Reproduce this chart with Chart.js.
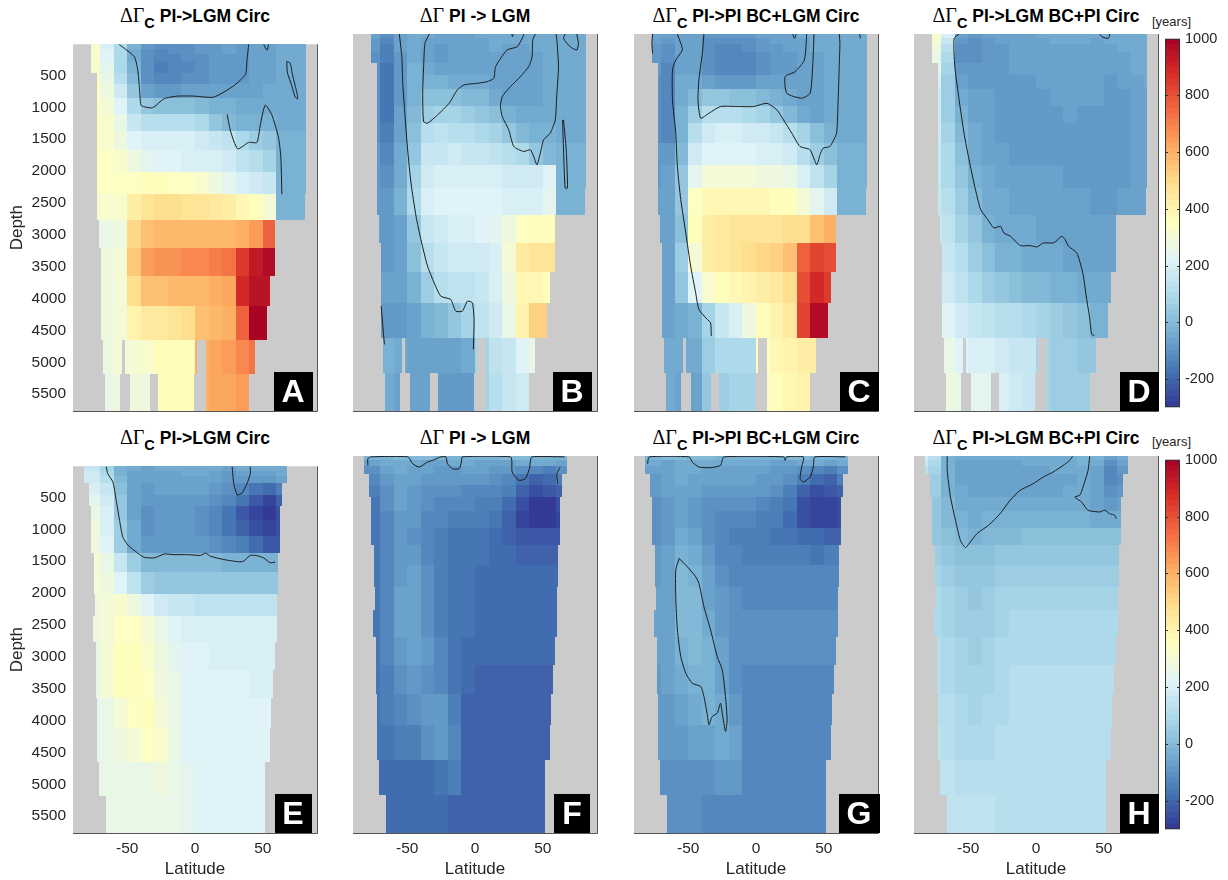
<!DOCTYPE html>
<html>
<head>
<meta charset="utf-8">
<script src="https://cdn.jsdelivr.net/npm/chart.js@4.4.1/dist/chart.umd.min.js"></script>
<style>
html, body { margin: 0; padding: 0; background: #fff; overflow: hidden; }
body { width: 1228px; height: 880px; position: relative; font-family: "Liberation Sans", Arial, Helvetica, sans-serif; }
canvas { position: absolute; }
.ttl { position: absolute; width: 300px; text-align: center; font-weight: bold; font-size: 17.5px; line-height: 20px; color: #000; white-space: nowrap; }
.ttl .g { font-family: "Liberation Serif", "Times New Roman", serif; font-weight: normal; font-size: 20px; }
.ttl sub { font-size: 14.5px; font-weight: bold; position: relative; top: 6px; vertical-align: baseline; line-height: 0; }
.units { position: absolute; font-size: 13px; line-height: 16px; color: #262626; }
</style>
</head>
<body>
<div class="ttl" style="left:45px;top:5px"><span class="g">ΔΓ</span><sub>C</sub> PI-&gt;LGM Circ</div>
<div class="ttl" style="left:325px;top:5px"><span class="g">ΔΓ</span> PI -&gt; LGM</div>
<div class="ttl" style="left:606px;top:5px"><span class="g">ΔΓ</span><sub>C</sub> PI-&gt;PI BC+LGM Circ</div>
<div class="ttl" style="left:886px;top:5px"><span class="g">ΔΓ</span><sub>C</sub> PI-&gt;LGM BC+PI Circ</div>
<div class="ttl" style="left:45px;top:427px"><span class="g">ΔΓ</span><sub>C</sub> PI-&gt;LGM Circ</div>
<div class="ttl" style="left:325px;top:427px"><span class="g">ΔΓ</span> PI -&gt; LGM</div>
<div class="ttl" style="left:606px;top:427px"><span class="g">ΔΓ</span><sub>C</sub> PI-&gt;PI BC+LGM Circ</div>
<div class="ttl" style="left:886px;top:427px"><span class="g">ΔΓ</span><sub>C</sub> PI-&gt;LGM BC+PI Circ</div>
<div class="units" style="left:1152px;top:14px">[years]</div>
<div class="units" style="left:1152px;top:434px">[years]</div>

<script>
// ---- grid ----
const depthEdges = [12, 80, 170, 280, 459, 637, 855, 1109, 1373, 1678, 2018, 2363, 2769, 3200, 3647, 4124, 4647, 5180, 5765];
const latEdges = [-90, -80, -70, -60, -50, -40, -30, -20, -10, 0, 10, 20, 30, 40, 50, 60, 70, 80, 90];
const depthTicks = [500, 1000, 1500, 2000, 2500, 3000, 3500, 4000, 4500, 5000, 5500];
const latTicks = [-50, 0, 50];
const colorTicks = [-200, 0, 200, 400, 600, 800, 1000];

// ocean extent per depth row, [west, east] latitude pieces
const atlanticMask = [
    [[-76.5, 82]], [[-76.5, 82]], [[-76.5, 82]], [[-76.5, 82]],
    [[-72.5, 82]], [[-72.5, 82]], [[-72.5, 82]], [[-72.5, 82]],
    [[-72.5, 82]], [[-72.5, 82]], [[-72.5, 82]], [[-72.5, 81]],
    [[-71, 59.3]], [[-69.5, 59.3]], [[-69.5, 55]], [[-69.5, 53]],
    [[-68, -53.8], [-51.5, 1.3], [8.4, 44.5]],
    [[-66.3, -55], [-47.7, -33.2], [-27.6, -0.7], [8.4, 40.4]]
];
const pacificMask = [
    [[-82, 67.8]], [[-82, 67.8]], [[-82, 67.8]],
    [[-78.4, 64]], [[-78.4, 64]],
    [[-76.5, 62.4]], [[-76.5, 62.4]], [[-76.5, 62.4]],
    [[-74.5, 60.9]], [[-74.5, 60.9]],
    [[-74, 60.5]], [[-75.3, 60.5]],
    [[-72.8, 59.3]], [[-72.8, 57.7]], [[-72.3, 56.2]], [[-72.3, 55.2]],
    [[-71, 51.9]], [[-66, 52]]
];

// ---- values [years], rows = depth layers, columns = 10 degree latitude bins ----
const gridA = [
    [null, 320, 200, 90, -30, -90, -110, -110, -100, -90, -80, -70, -80, -70, -60, -50, -40, -40],
    [null, 320, 210, 90, -40, -100, -120, -110, -100, -90, -80, -70, -80, -70, -60, -50, -40, -40],
    [null, 320, 220, 100, -40, -110, -130, -120, -110, -100, -80, -80, -80, -70, -60, -50, -40, -40],
    [null, 320, 230, 100, -30, -110, -140, -130, -120, -100, -90, -80, -80, -70, -60, -50, -40, -40],
    [null, 330, 250, 120, -10, -100, -130, -120, -110, -100, -90, -80, -80, -70, -60, -50, -40, -40],
    [null, 330, 280, 170, 40, -60, -80, -80, -70, -70, -60, -60, -60, -60, -50, -40, -40, -40],
    [null, 330, 300, 220, 100, 30, 20, 20, 10, 0, -20, -30, -40, -40, -40, -40, -40, -40],
    [null, 330, 310, 250, 150, 120, 120, 120, 110, 90, 40, 0, -20, -30, -30, -40, -40, -40],
    [null, 330, 320, 280, 210, 200, 200, 200, 190, 170, 150, 130, 100, 60, 30, -20, -30, -30],
    [null, 340, 330, 320, 270, 240, 220, 210, 200, 200, 190, 170, 140, 110, 80, -20, -20, -20],
    [null, 330, 340, 340, 340, 350, 350, 340, 330, 310, 280, 240, 200, 170, 150, -20, -20, -20],
    [null, 300, 310, 320, 420, 470, 480, 480, 470, 460, 440, 420, 380, 370, 300, -30, -30, -30],
    [null, 250, 260, 280, 500, 570, 580, 590, 590, 580, 580, 590, 600, 640, 760, null, null, null],
    [null, 260, 270, 300, 550, 650, 660, 670, 680, 680, 700, 720, 850, 930, 960, null, null, null],
    [null, 270, 280, 300, 480, 560, 570, 580, 580, 590, 600, 620, 880, 950, 950, null, null, null],
    [null, 270, 270, 300, 400, 440, 450, 460, 480, 560, 590, 600, 760, 980, 980, null, null, null],
    [null, 280, 280, 290, 300, 320, 350, 370, 370, 600, 620, 640, 680, 720, null, null, null, null],
    [null, 260, 260, 270, 270, 280, 350, 370, 370, 600, 620, 630, 640, null, null, null, null, null]
];
const gridB = [
    [null, -60, -100, -60, -50, -50, -60, -60, -60, -50, -50, -50, -50, -40, -40, -40, -40, -40],
    [null, -80, -120, -70, -40, -60, -70, -70, -60, -60, -50, -50, -50, -50, -40, -40, -40, -40],
    [null, -90, -140, -70, -40, -60, -80, -70, -60, -60, -50, -60, -60, -50, -50, -40, -40, -40],
    [null, -100, -150, -80, -40, -60, -80, -70, -70, -60, -60, -60, -60, -60, -50, -40, -40, -40],
    [null, -100, -160, -80, -30, -50, -70, -70, -60, -60, -70, -70, -70, -60, -50, -40, -40, -40],
    [null, -110, -170, -80, -30, -20, -30, -40, -50, -50, -60, -70, -70, -60, -50, -40, -40, -40],
    [null, -110, -170, -80, -20, 20, 20, 10, 0, -10, -40, -60, -70, -60, -50, -40, -40, -40],
    [null, -110, -160, -70, 0, 60, 80, 70, 60, 40, 10, -30, -50, -50, -40, -40, -40, -40],
    [null, -100, -150, -60, 20, 110, 130, 120, 110, 100, 70, 40, 0, -30, -30, -40, -40, -40],
    [null, -90, -130, -50, 40, 150, 160, 170, 160, 150, 140, 120, 90, 40, 0, -20, -30, -30],
    [null, -80, -110, -40, 80, 180, 190, 200, 200, 190, 190, 180, 170, 170, 210, -20, -20, -20],
    [null, -80, -90, -20, 100, 200, 210, 220, 220, 210, 210, 200, 190, 200, 240, -20, -20, -20],
    [null, -70, -90, -60, 40, 160, 180, 190, 200, 210, 230, 280, 330, 350, 350, null, null, null],
    [null, -60, -80, -60, 10, 120, 160, 170, 170, 180, 200, 300, 440, 470, 460, null, null, null],
    [null, -60, -70, -70, -30, 60, 110, 130, 140, 160, 200, 280, 380, 380, 350, null, null, null],
    [null, -70, -80, -90, -60, -30, 0, 30, 80, 130, 180, 250, 400, 520, 520, null, null, null],
    [null, -30, -30, -50, -60, -60, -60, -60, -50, 80, 130, 150, 220, 250, null, null, null, null],
    [null, -40, -40, -60, -60, -70, -80, -90, -90, 80, 110, 150, 180, null, null, null, null, null]
];
const gridC = [
    [null, -60, -70, -60, -60, -80, -90, -90, -80, -70, -60, -60, -50, -50, -50, -40, -40, -40],
    [null, -70, -90, -60, -70, -100, -110, -110, -100, -80, -70, -60, -60, -50, -50, -40, -40, -40],
    [null, -80, -100, -60, -70, -110, -120, -120, -110, -90, -80, -70, -60, -50, -50, -40, -40, -40],
    [null, -90, -110, -60, -70, -110, -130, -130, -120, -100, -90, -80, -70, -60, -50, -40, -40, -40],
    [null, -90, -120, -60, -70, -110, -130, -130, -120, -100, -90, -80, -70, -60, -50, -40, -40, -40],
    [null, -100, -120, -50, -50, -70, -80, -80, -80, -70, -70, -70, -70, -60, -50, -40, -40, -40],
    [null, -100, -130, -40, 0, 30, 30, 20, 10, 0, -20, -50, -70, -70, -50, -40, -40, -40],
    [null, -110, -130, -30, 60, 110, 120, 110, 100, 80, 40, 0, -40, -60, -50, -40, -40, -40],
    [null, -110, -130, -20, 120, 180, 190, 190, 180, 170, 150, 120, 80, 20, -30, -40, -40, -40],
    [null, -90, -80, 0, 170, 210, 220, 220, 210, 200, 190, 170, 120, 60, 20, -30, -30, -30],
    [null, -80, -60, 40, 230, 290, 300, 300, 290, 280, 270, 250, 200, 130, 80, -30, -30, -30],
    [null, -70, -60, 30, 330, 380, 390, 390, 390, 380, 370, 350, 290, 230, 180, -20, -20, -20],
    [null, -70, -60, 20, 360, 430, 450, 460, 460, 460, 470, 480, 490, 560, 600, null, null, null],
    [null, -60, -60, 60, 300, 420, 440, 460, 480, 500, 520, 560, 760, 830, 800, null, null, null],
    [null, -60, -60, 40, 220, 320, 360, 380, 400, 420, 440, 480, 800, 880, 850, null, null, null],
    [null, -60, -60, -40, -20, 80, 150, 200, 280, 360, 400, 440, 820, 960, 960, null, null, null],
    [null, -50, -50, -50, -40, 60, 90, 100, 100, 340, 380, 400, 420, 420, null, null, null, null],
    [null, -50, -50, -60, -60, 40, 60, 70, 70, 320, 360, 390, 400, null, null, null, null, null]
];
const gridD = [
    [null, 320, 200, -60, -80, -70, -60, -60, -60, -50, -50, -50, -50, -50, -40, -40, -40, -40],
    [null, 300, 150, -90, -100, -80, -70, -60, -60, -60, -50, -50, -50, -60, -50, -40, -40, -40],
    [null, 280, 120, -100, -100, -90, -80, -70, -60, -60, -60, -60, -60, -60, -60, -50, -40, -40],
    [null, 250, 100, -100, -100, -90, -80, -70, -70, -60, -60, -60, -60, -70, -70, -60, -40, -40],
    [null, 230, 80, -90, -90, -90, -80, -70, -70, -70, -60, -60, -70, -70, -70, -70, -50, -40],
    [null, 200, 60, -70, -80, -80, -80, -80, -80, -70, -70, -70, -70, -70, -80, -70, -60, -50],
    [null, 180, 60, -50, -70, -70, -80, -80, -80, -80, -70, -70, -70, -70, -80, -80, -70, -60],
    [null, 170, 60, -30, -60, -70, -80, -80, -80, -80, -80, -70, -80, -80, -90, -80, -70, -60],
    [null, 170, 80, -10, -50, -70, -80, -80, -80, -80, -80, -80, -80, -80, -90, -90, -70, -60],
    [null, 160, 90, 10, -40, -60, -70, -80, -80, -80, -80, -80, -80, -80, -90, -90, -70, -60],
    [null, 160, 100, 30, -20, -50, -60, -70, -70, -70, -70, -80, -80, -80, -90, -80, -70, -60],
    [null, 150, 110, 50, 0, -40, -50, -60, -60, -60, -70, -70, -70, -80, -80, -70, -60, -60],
    [null, 170, 140, 80, 30, -20, -40, -50, -50, -60, -60, -70, -70, -70, -70, null, null, null],
    [null, 190, 160, 110, 60, 10, -20, -30, -40, -50, -50, -60, -60, -60, -60, null, null, null],
    [null, 200, 180, 140, 100, 60, 40, 20, 0, -10, -20, -30, -40, -50, -50, null, null, null],
    [null, 230, 210, 180, 160, 140, 120, 110, 100, 80, 60, 40, 20, -20, -20, null, null, null],
    [null, 280, 260, 220, 200, 190, 170, 150, 150, 70, 60, 50, 40, 40, null, null, null, null],
    [null, 290, 280, 250, 240, 230, 190, 170, 160, 70, 60, 50, 50, null, null, null, null, null]
];
const gridE = [
    [150, 150, 80, -20, -50, -60, -50, -50, -40, -40, -40, -60, -50, -40, -50, -40, -40, null],
    [170, 170, 100, -20, -60, -70, -60, -60, -50, -50, -60, -80, -70, -60, -60, -50, -40, null],
    [170, 180, 120, 0, -60, -70, -60, -60, -60, -60, -70, -90, -90, -80, -90, -60, -40, null],
    [180, 200, 150, 20, -60, -80, -70, -70, -70, -70, -80, -100, -120, -160, -190, -150, null, null],
    [180, 230, 170, 30, -60, -90, -80, -80, -80, -80, -100, -130, -170, -230, -260, -200, null, null],
    [null, 260, 190, 40, -60, -100, -90, -90, -90, -100, -120, -160, -220, -270, -280, -250, null, null],
    [null, 270, 200, 50, -50, -100, -90, -90, -90, -100, -120, -160, -210, -250, -270, -250, null, null],
    [null, 280, 210, 60, -40, -90, -90, -90, -90, -90, -100, -120, -150, -190, -230, -220, null, null],
    [null, 290, 260, 160, 60, 0, -10, -10, -10, -10, -10, -20, -20, -20, -20, -20, null, null],
    [null, 300, 280, 220, 130, 60, 40, 30, 30, 30, 30, 30, 30, 30, 30, 30, null, null],
    [null, 280, 300, 320, 280, 220, 180, 160, 150, 140, 140, 130, 130, 130, 130, 130, null, null],
    [null, 270, 290, 340, 340, 300, 250, 220, 200, 190, 190, 190, 190, 190, 190, 190, null, null],
    [null, 260, 300, 350, 350, 320, 270, 240, 220, 210, 200, 200, 200, 200, 200, null, null, null],
    [null, 250, 290, 350, 360, 330, 280, 250, 220, 210, 210, 210, 210, 200, 200, null, null, null],
    [null, 240, 260, 300, 340, 350, 300, 250, 220, 210, 210, 210, 210, 210, 210, null, null, null],
    [null, 240, 250, 270, 300, 340, 320, 260, 220, 210, 210, 210, 210, 210, 210, null, null, null],
    [null, 250, 260, 260, 260, 260, 280, 250, 230, 220, 220, 220, 220, 220, 220, null, null, null],
    [null, null, 260, 260, 260, 260, 260, 250, 230, 220, 220, 220, 220, 220, 220, null, null, null]
];
const gridF = [
    [-20, -20, -20, -10, 0, -10, -20, -20, -20, -20, -20, -10, 0, -20, -20, -20, -20, null],
    [-60, -60, -40, -40, -50, -60, -60, -50, -50, -60, -60, -60, -40, -50, -40, -60, -40, null],
    [-100, -100, -60, -50, -60, -70, -80, -80, -70, -70, -80, -90, -100, -120, -140, -100, -80, null],
    [-120, -120, -80, -60, -70, -80, -90, -90, -90, -90, -100, -120, -160, -200, -190, -150, null, null],
    [-130, -150, -100, -70, -80, -100, -110, -110, -120, -120, -130, -150, -200, -240, -230, -200, null, null],
    [null, -160, -110, -70, -90, -110, -120, -130, -130, -140, -150, -180, -250, -280, -280, -250, null, null],
    [null, -170, -120, -80, -90, -120, -130, -140, -150, -150, -160, -200, -260, -290, -280, -270, null, null],
    [null, -170, -130, -80, -100, -130, -150, -160, -160, -170, -180, -200, -220, -230, -230, -230, null, null],
    [null, -170, -130, -80, -90, -130, -150, -160, -170, -170, -180, -190, -200, -200, -200, -200, null, null],
    [null, -170, -130, -80, -70, -110, -140, -160, -170, -180, -180, -190, -190, -190, -190, -190, null, null],
    [null, -160, -120, -70, -60, -100, -140, -160, -170, -180, -180, -180, -180, -180, -180, -180, null, null],
    [null, -160, -120, -70, -60, -100, -140, -160, -170, -180, -180, -180, -180, -180, -180, -180, null, null],
    [null, -160, -120, -80, -70, -90, -130, -160, -180, -190, -190, -190, -190, -190, -190, null, null, null],
    [null, -170, -140, -100, -90, -100, -130, -170, -190, -200, -200, -200, -200, -200, -200, null, null, null],
    [null, -170, -150, -130, -110, -80, -80, -150, -200, -210, -210, -210, -210, -210, -210, null, null, null],
    [null, -170, -160, -150, -140, -110, -90, -120, -200, -210, -210, -210, -200, -200, -200, null, null, null],
    [null, -180, -180, -180, -180, -180, -170, -150, -200, -210, -210, -210, -200, -200, -200, null, null, null],
    [null, null, -190, -190, -190, -190, -190, -200, -210, -210, -210, -210, -210, -210, -210, null, null, null]
];
const gridG = [
    [-20, -20, -10, -10, -10, -10, -20, -20, -20, -20, -20, -10, 0, -20, -20, -20, -20, null],
    [-40, -40, -60, -40, -40, -50, -50, -40, -40, -40, -60, -60, -40, -50, -60, -50, -40, null],
    [-70, -70, -60, -40, -40, -60, -60, -60, -60, -60, -80, -90, -110, -130, -140, -100, -60, null],
    [-80, -80, -70, -50, -60, -70, -70, -70, -70, -80, -90, -110, -150, -190, -200, -150, null, null],
    [-90, -90, -70, -60, -70, -80, -80, -90, -90, -90, -110, -140, -200, -240, -230, -200, null, null],
    [null, -100, -80, -60, -80, -100, -100, -110, -110, -120, -140, -170, -240, -270, -270, -240, null, null],
    [null, -100, -80, -60, -80, -110, -120, -130, -130, -140, -150, -180, -240, -270, -260, -250, null, null],
    [null, -100, -80, -50, -60, -100, -130, -140, -150, -150, -160, -170, -180, -190, -200, -200, null, null],
    [null, -90, -70, -30, -40, -90, -120, -130, -140, -140, -150, -150, -150, -160, -150, -150, null, null],
    [null, -80, -60, -10, -20, -70, -100, -120, -130, -130, -130, -130, -130, -130, -130, -130, null, null],
    [null, -70, -60, 0, -10, -60, -90, -110, -120, -120, -120, -120, -120, -120, -120, -120, null, null],
    [null, -70, -60, -10, 0, -40, -80, -100, -110, -110, -110, -110, -110, -110, -110, -110, null, null],
    [null, -70, -60, -30, -10, -30, -70, -100, -110, -110, -110, -110, -110, -110, -110, null, null, null],
    [null, -80, -70, -50, -20, -20, -60, -100, -120, -120, -120, -120, -120, -120, -120, null, null, null],
    [null, -90, -80, -70, -50, -30, -40, -90, -130, -130, -130, -130, -130, -130, -130, null, null, null],
    [null, -90, -90, -80, -70, -60, -50, -70, -130, -130, -130, -130, -130, -130, -130, null, null, null],
    [null, -100, -100, -100, -100, -100, -90, -80, -130, -130, -130, -130, -130, -130, -130, null, null, null],
    [null, null, -110, -110, -110, -120, -120, -120, -130, -130, -130, -130, -130, -130, -130, null, null, null]
];
const gridH = [
    [180, 120, -20, -50, -50, -50, -50, -50, -40, -40, -40, -40, -20, -30, -60, -40, -40, null],
    [150, 100, -30, -60, -60, -60, -60, -60, -50, -50, -50, -50, -30, -50, -100, -60, -40, null],
    [120, 80, -30, -60, -60, -60, -60, -60, -60, -60, -50, -50, -40, -60, -120, -80, -60, null],
    [100, 60, -30, -60, -60, -60, -60, -60, -60, -60, -60, -60, -40, -60, -120, -100, null, null],
    [100, 50, -20, -50, -60, -60, -60, -60, -60, -60, -60, -50, -50, -60, -100, -80, null, null],
    [null, 40, -10, -40, -50, -50, -50, -50, -50, -50, -50, -50, -50, -60, -80, -70, null, null],
    [null, 40, 0, -30, -40, -30, -30, -30, -30, -30, -30, -30, -30, -40, -50, -50, null, null],
    [null, 40, 20, 0, -20, -10, 0, 0, 10, 10, 10, 10, 10, 10, 10, 10, null, null],
    [null, 60, 40, 20, 10, 20, 30, 40, 40, 40, 40, 40, 40, 40, 40, 40, null, null],
    [null, 80, 50, 40, 30, 40, 50, 60, 60, 60, 60, 60, 60, 60, 60, 60, null, null],
    [null, 90, 70, 50, 40, 50, 70, 80, 80, 80, 80, 80, 80, 80, 80, 80, null, null],
    [null, 100, 80, 60, 50, 60, 80, 90, 90, 90, 90, 90, 90, 90, 90, 90, null, null],
    [null, 110, 90, 70, 60, 70, 90, 100, 100, 100, 100, 100, 100, 100, 100, null, null, null],
    [null, 120, 100, 80, 70, 80, 100, 110, 110, 110, 110, 110, 110, 110, 110, null, null, null],
    [null, 120, 110, 90, 80, 90, 100, 110, 110, 110, 110, 110, 110, 110, 110, null, null, null],
    [null, 130, 120, 100, 90, 100, 110, 110, 110, 110, 110, 110, 110, 110, 110, null, null, null],
    [null, 130, 130, 110, 110, 110, 110, 110, 110, 110, 110, 110, 110, 110, 110, null, null, null],
    [null, null, 140, 130, 130, 130, 120, 110, 110, 110, 110, 110, 110, 110, 110, null, null, null]
];

// ---- contour lines, [lat, depth] ----
const contourA = [
    [[-56, 13], [-44.8, 206], [-42.3, 409], [-41.1, 662], [-39.9, 967], [-37.4, 992], [-31.3, 1008], [-22.7, 865], [-13, 825], [-0.7, 825], [13.9, 840], [28.6, 662], [37.2, 485], [38.4, 256], [39.6, 13]],
    [[50.6, 13], [53.1, 104], [54.3, 13]],
    [[23.7, 1109], [26.2, 1373], [31.5, 1652], [39.6, 1551], [45.7, 1551], [48.2, 1272], [51.8, 967], [56.7, 1119], [61.6, 1475], [63.3, 1779], [64.1, 2363]],
    [[67.7, 282], [70.2, 307], [72.1, 510], [75.1, 764], [75.8, 865], [73.9, 840], [71.4, 662], [68.2, 459], [67.7, 282]]
];
const contourB = [
    [[-55.8, 13], [-54, 358], [-53.3, 764], [-51.6, 1272], [-49.7, 1779], [-47.2, 2287], [-43.5, 2794], [-39.9, 3150], [-35, 3556], [-30.1, 3810], [-25.2, 4013], [-17.9, 4063], [-14.2, 4241], [-9.3, 4241], [-5.6, 4089], [-2, 4114], [-0.7, 4368], [-1.2, 4825]],
    [[-33.7, 13], [-36.9, 155], [-37.9, 510], [-38.6, 916], [-37.9, 1348], [-35, 1373], [-27.6, 1246], [-19.1, 1069], [-13, 865], [-8.1, 789], [1.7, 764], [9, 739], [13.9, 688], [15.2, 510], [23.7, 256], [31.1, 206], [35.5, 53], [35.9, 13]],
    [[27.1, 13], [27.6, 53], [28.4, 13]],
    [[44.5, 13], [42.6, 104], [42.1, 358], [39.6, 510], [33.5, 662], [26.2, 815], [20.1, 967], [18.8, 1119], [20.1, 1272], [24.9, 1475], [28.6, 1728], [35.9, 1805], [40.8, 1779], [43.3, 1881], [45.7, 2008], [48.2, 1830], [50.6, 1627], [55.5, 1525], [59.2, 1322], [60.4, 916], [61.6, 510], [60.4, 104], [59.9, 13]],
    [[66.5, 13], [65.3, 79], [70.2, 206], [75.1, 256], [76.3, 155], [75.1, 13]],
    [[64.6, 1322], [65.3, 1779], [66.5, 2363], [68.2, 2363], [67.3, 1779], [65.3, 1322]],
    [[-69.2, 4165], [-68, 4469], [-66.8, 4749]]
];
const contourC = [
    [[-76.3, 13], [-76.8, 155], [-76.3, 307]],
    [[-58, 13], [-55.5, 155], [-54.3, 256], [-59.2, 409], [-61.6, 561], [-61.6, 1018], [-59.2, 1525], [-58, 2033], [-55.5, 2541], [-51.8, 3048], [-48.2, 3556], [-44.5, 3962], [-42.1, 4216], [-35.9, 4368], [-33.5, 4419], [-33, 4622]],
    [[-38.4, 13], [-39.6, 307], [-42.1, 713], [-42.8, 1018], [-40.8, 1297], [-34.7, 1221], [-26.2, 1119], [-13.9, 1119], [-1.7, 1119], [8.1, 1069], [15.4, 1170], [20.3, 1322], [26.4, 1525], [32.5, 1728], [39.9, 1779], [44.8, 2008], [47.2, 1855], [49.6, 1754], [54.5, 1728], [59.4, 1525], [60.6, 1018], [61.4, 510], [61.9, 155], [61.4, 13]],
    [[37.4, 13], [35.7, 409], [28.9, 586], [21.5, 662], [22.7, 916], [33.7, 992], [39.9, 916], [41.8, 510], [42.8, 13]],
    [[27.1, 13], [28.4, 79], [29.6, 13]],
    [[76.5, 13], [77, 79]]
];
const contourD = [
    [[-56.7, 13], [-60.4, 79], [-59.9, 510], [-56.7, 1018], [-53.1, 1525], [-49.4, 1931], [-45.2, 2338], [-40.8, 2693], [-35.5, 2845], [-31.1, 2972], [-26.2, 2947], [-23.7, 3048], [-18.8, 3099], [-11.5, 3241], [-4.2, 3241], [0.7, 3261], [5.6, 3200], [13, 3200], [19.1, 3099], [21.5, 3150], [24, 3251], [30.1, 3353], [34.5, 3657], [37.4, 4063], [39.4, 4317], [41.1, 4596], [43, 4612]],
    [[47.2, 13], [48.4, 53], [53.3, 79], [54.5, 13]]
];
const contourE = [
    [[-65.5, 18], [-64.3, 129], [-60.6, 256], [-58.2, 536], [-55.8, 840], [-53.3, 1119], [-49.6, 1246], [-42.3, 1373], [-37.4, 1439], [-30.1, 1449], [-22.7, 1388], [-15.4, 1398], [-5.6, 1398], [4.2, 1409], [7.8, 1373], [11.5, 1424], [21.3, 1475], [32.3, 1510], [35.9, 1500], [40.8, 1409], [45.7, 1414], [50.6, 1449], [55.5, 1525], [59.2, 1515]],
    [[27.4, 18], [28.6, 282], [31.1, 459], [34.7, 434], [38.4, 282], [40.8, 129], [40.8, 18]]
];
const contourF = [
    [[-79, 155], [-79, 53], [-76.5, 25], [-49.6, 25], [-46, 129], [-41.1, 180], [-35, 104], [-30.1, 69], [-25.2, 25], [-21.5, 25], [-20.3, 129], [-16.6, 206], [-11.7, 206], [-10, 104], [-9.3, 25], [26.2, 25], [27.4, 256], [32.3, 383], [37.2, 358], [40.1, 206], [42.1, 25], [66, 25]],
    [[62.9, 180], [60.4, 282], [61.1, 434]]
];
const contourG = [
    [[-80, 129], [-78.7, 25], [-49.4, 25], [-47, 104], [-42.1, 180], [-33.5, 190], [-26.2, 155], [-23.7, 25], [20.3, 25], [21.5, 79], [22.7, 25], [35, 25], [33.7, 180], [32.5, 358], [35, 409], [39.9, 333], [42.3, 180], [43.5, 25], [66, 25]],
    [[-56.7, 1576], [-59.2, 1754], [-59.2, 2160], [-58, 2667], [-55.5, 3074], [-51.8, 3327], [-47, 3480], [-40.8, 3530], [-38.4, 3683], [-35.9, 3962], [-34.7, 4114], [-32.3, 3987], [-28.6, 3937], [-26.2, 3784], [-24.9, 3937], [-22.5, 4216], [-21.3, 4038], [-22.5, 3683], [-24.9, 3276], [-28.6, 3074], [-33.5, 2667], [-38.4, 2312], [-42.1, 1957], [-44.5, 1855], [-50.6, 1703], [-56.7, 1576]]
];
const contourH = [
    [[-65.5, 18], [-65.5, 231], [-63.1, 637], [-59.4, 992], [-55.8, 1297], [-52.1, 1409], [-48.4, 1322], [-43.5, 1195], [-35, 1069], [-26.4, 891], [-19.1, 688], [-11.7, 536], [-2, 434], [5.4, 332], [12.7, 256], [20.1, 155], [24.9, 79], [26.9, 18]],
    [[39.6, 18], [38.4, 231], [34.7, 485], [32.3, 612], [28.6, 637], [33.5, 713], [38.4, 840], [47, 866], [50.6, 840], [54.3, 891], [58, 916], [59.2, 967]]
];

// ---- colour scale (RdYlBu, reversed) ----
const cMin = -300, cMax = 1000, cLevels = 64;
const rdylbu = ['#313695', '#4575b4', '#74add1', '#abd9e9', '#e0f3f8', '#ffffbf', '#fee090', '#fdae61', '#f46d43', '#d73027', '#a50026'];
const landColor = '#cbcbcb';

// ---- layout ----
const plotLeft = [73, 353, 634, 914];
const plotTop = [34, 456];
const plotW = 244, plotH = 377;
const axisW = 73, axisH = 47, padTop = 6, padRight = 8;
const letterShift = [-24, -25, -19, -19];

Chart.defaults.font.family = '"Liberation Sans", Arial, Helvetica, sans-serif';
Chart.defaults.color = '#262626';

const stops = rdylbu.map(h => [1, 3, 5].map(i => parseInt(h.substr(i, 2), 16)));

function colorFor(v) {
    let t = (v - cMin) / (cMax - cMin);
    t = Math.max(0, Math.min(1, t));
    const k = Math.min(cLevels - 1, Math.floor(t * cLevels));
    const s = (k + 0.5) / cLevels * (stops.length - 1);
    const i = Math.min(stops.length - 2, Math.floor(s));
    const f = s - i;
    const rgb = stops[i].map((a, j) => Math.round(a + (stops[i + 1][j] - a) * f));
    return `rgb(${rgb[0]},${rgb[1]},${rgb[2]})`;
}

function placeCanvas(id, left, top, width, height) {
    const c = document.createElement('canvas');
    c.id = id;
    c.width = width;
    c.height = height;
    c.style.left = left + 'px';
    c.style.top = top + 'px';
    c.style.width = width + 'px';
    c.style.height = height + 'px';
    document.body.appendChild(c);
}

class SectionChart {

    constructor(canvasId, panel) {
        this.canvasId = canvasId;
        this.panel = panel;
        this.chart = null;
    }

    // cells under the contours, then frame and panel letter on top
    fieldPlugin() {
        const p = this.panel;
        return {
            id: 'field',
            beforeDatasetsDraw(chart) {
                const { ctx, chartArea: a, scales: { x, y } } = chart;
                ctx.save();
                ctx.fillStyle = landColor;
                ctx.fillRect(a.left, a.top, a.width, a.height);
                p.grid.forEach((row, r) => {
                    const y0 = Math.round(y.getPixelForValue(depthEdges[r]));
                    const y1 = Math.round(y.getPixelForValue(depthEdges[r + 1]));
                    p.mask[r].forEach(([lo, hi]) => {
                        row.forEach((v, c) => {
                            if (v === null) return;
                            const l = Math.max(lo, latEdges[c]);
                            const h = Math.min(hi, latEdges[c + 1]);
                            if (h <= l) return;
                            const x0 = Math.round(x.getPixelForValue(l));
                            const x1 = Math.round(x.getPixelForValue(h));
                            ctx.fillStyle = colorFor(v);
                            ctx.fillRect(x0, y0, x1 - x0, y1 - y0);
                        });
                    });
                });
                ctx.restore();
            },
            afterDraw(chart) {
                const { ctx, chartArea: a } = chart;
                ctx.save();
                ctx.strokeStyle = '#555';
                ctx.lineWidth = 1;
                ctx.beginPath();
                ctx.moveTo(a.left, a.bottom + 0.5);
                ctx.lineTo(a.right + 0.5, a.bottom + 0.5);
                ctx.lineTo(a.right + 0.5, a.top);
                ctx.stroke();

                ctx.font = 'bold 32px "Liberation Sans", Arial, sans-serif';
                const w = Math.round(ctx.measureText(p.letter).width + 16), h = 39;
                const cx = a.right + letterShift[p.col];
                ctx.fillStyle = '#000';
                ctx.fillRect(Math.round(cx - w / 2), a.bottom - h, w, h);
                ctx.fillStyle = '#fff';
                ctx.textAlign = 'center';
                ctx.textBaseline = 'middle';
                ctx.fillText(p.letter, cx, a.bottom - h / 2 + 1.5);
                ctx.restore();
            }
        };
    }

    build() {
        const p = this.panel;
        const firstCol = p.col === 0;
        const lastRow = p.row === 1;
        const ctx = document.getElementById(this.canvasId).getContext('2d');

        this.chart = new Chart(ctx, {
            type: 'scatter',
            data: {
                datasets: p.contours.map(line => ({
                    data: line.map(([lat, depth]) => ({ x: lat, y: depth })),
                    showLine: true,
                    borderColor: '#1c1c1c',
                    borderWidth: 1,
                    pointRadius: 0,
                    tension: 0.2
                }))
            },
            options: {
                responsive: false,
                animation: false,
                events: [],
                layout: { padding: { top: padTop, right: padRight, left: 0, bottom: 0 } },
                plugins: { legend: { display: false }, tooltip: { enabled: false } },
                scales: {
                    x: {
                        type: 'linear',
                        min: latEdges[0],
                        max: latEdges[latEdges.length - 1],
                        grid: { display: false, drawTicks: false },
                        border: { display: false },
                        afterBuildTicks: s => { s.ticks = latTicks.map(v => ({ value: v })); },
                        afterFit: s => { s.height = axisH; },
                        ticks: { display: lastRow, font: { size: 15.5 }, padding: 6, maxRotation: 0, callback: v => String(v) },
                        title: { display: lastRow, text: 'Latitude', font: { size: 17 }, padding: 0 }
                    },
                    y: {
                        type: 'linear',
                        reverse: true,
                        min: depthEdges[0],
                        max: depthEdges[depthEdges.length - 1],
                        grid: { display: false, drawTicks: false },
                        border: { display: false },
                        afterBuildTicks: s => { s.ticks = depthTicks.map(v => ({ value: v })); },
                        afterFit: s => { s.width = axisW; },
                        ticks: { display: firstCol, font: { size: 15.5 }, padding: 7, callback: v => String(v) },
                        title: { display: firstCol, text: 'Depth', font: { size: 17 }, padding: { top: 7 } }
                    }
                }
            },
            plugins: [this.fieldPlugin()]
        });

        return this.chart;
    }
}

class ColorbarChart {

    constructor(canvasId) {
        this.canvasId = canvasId;
        this.chart = null;
    }

    build() {
        const ctx = document.getElementById(this.canvasId).getContext('2d');
        this.chart = new Chart(ctx, {
            type: 'scatter',
            data: { datasets: [] },
            options: {
                responsive: false,
                animation: false,
                events: [],
                layout: { padding: { top: 10, bottom: 10, left: 0, right: 0 } },
                plugins: { legend: { display: false }, tooltip: { enabled: false } },
                scales: {
                    x: { display: false, min: 0, max: 1 },
                    y: {
                        position: 'right',
                        min: cMin,
                        max: cMax,
                        grid: { display: false, drawTicks: false },
                        border: { display: false },
                        afterBuildTicks: s => { s.ticks = colorTicks.map(v => ({ value: v })); },
                        afterFit: s => { s.width = 48; },
                        ticks: { font: { size: 14.5 }, padding: 5, callback: v => String(v) }
                    }
                }
            },
            plugins: [{
                id: 'ramp',
                afterDraw(chart) {
                    const { ctx, chartArea: a, scales: { y } } = chart;
                    const step = (cMax - cMin) / cLevels;
                    ctx.save();
                    for (let k = 0; k < cLevels; k++) {
                        const v0 = cMin + k * step;
                        const top = Math.round(y.getPixelForValue(v0 + step));
                        const bot = Math.round(y.getPixelForValue(v0));
                        ctx.fillStyle = colorFor(v0 + step / 2);
                        ctx.fillRect(a.left, top, a.width, bot - top);
                    }
                    ctx.strokeStyle = '#333';
                    ctx.lineWidth = 1;
                    ctx.strokeRect(a.left + 0.5, a.top + 0.5, a.width - 1, a.height - 1);
                    colorTicks.forEach(v => {
                        const py = Math.round(y.getPixelForValue(v)) + 0.5;
                        ctx.beginPath();
                        ctx.moveTo(a.left, py); ctx.lineTo(a.left + 3, py);
                        ctx.moveTo(a.right - 3, py); ctx.lineTo(a.right, py);
                        ctx.stroke();
                    });
                    ctx.restore();
                }
            }]
        });
        return this.chart;
    }
}

const panels = [
    { letter: 'A', row: 0, col: 0, grid: gridA, mask: atlanticMask, contours: contourA },
    { letter: 'B', row: 0, col: 1, grid: gridB, mask: atlanticMask, contours: contourB },
    { letter: 'C', row: 0, col: 2, grid: gridC, mask: atlanticMask, contours: contourC },
    { letter: 'D', row: 0, col: 3, grid: gridD, mask: atlanticMask, contours: contourD },
    { letter: 'E', row: 1, col: 0, grid: gridE, mask: pacificMask, contours: contourE },
    { letter: 'F', row: 1, col: 1, grid: gridF, mask: pacificMask, contours: contourF },
    { letter: 'G', row: 1, col: 2, grid: gridG, mask: pacificMask, contours: contourG },
    { letter: 'H', row: 1, col: 3, grid: gridH, mask: pacificMask, contours: contourH }
];

panels.forEach(p => {
    const id = 'panel' + p.letter;
    placeCanvas(id, plotLeft[p.col] - axisW, plotTop[p.row] - padTop, axisW + plotW + padRight, padTop + plotH + axisH);
    new SectionChart(id, p).build();
});

[0, 1].forEach(r => {
    const id = 'colorbar' + r;
    placeCanvas(id, 1165, plotTop[r] + (r === 0 ? 1 : 0) - 10, 63, plotH - (r === 0 ? 1 : 0) + 20);
    new ColorbarChart(id).build();
});
</script>
</body>
</html>
